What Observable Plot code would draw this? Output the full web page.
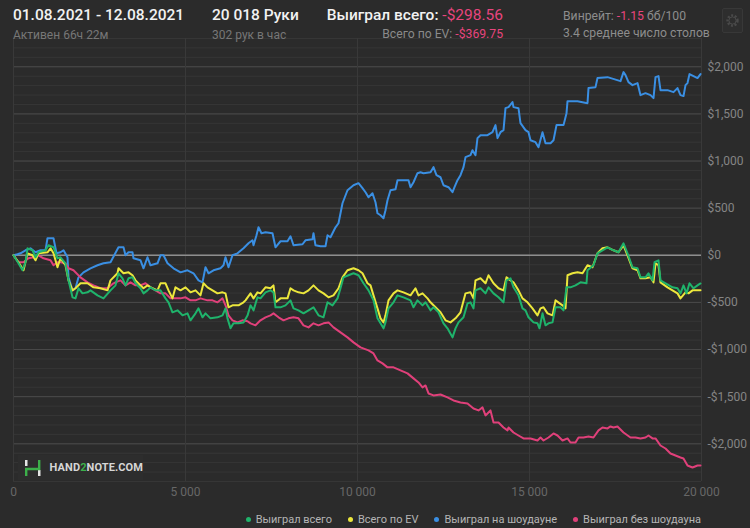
<!DOCTYPE html>
<html>
<head>
<meta charset="utf-8">
<script src="https://cdn.jsdelivr.net/npm/d3@7"></script>
<script src="https://cdn.jsdelivr.net/npm/@observablehq/plot@0.6"></script>
<style>
  html, body { margin: 0; padding: 0; background: #2b2b2b; }
  body { width: 750px; height: 528px; position: relative; overflow: hidden; font-family: Roboto, "Noto Sans", sans-serif; }
  .abs { position: absolute; white-space: nowrap; }
  .big { font-size: 15.5px; font-weight: 500; color: #f2f2f2; }
  .small { font-size: 12px; color: #777; }
  .mid { font-size: 12.2px; color: #8d8d8d; }
  .neg { color: #e8457e; }
  #chart { position: absolute; left: 0; top: 0; }
  #legend { position: absolute; right: 49px; top: 513px; display: flex; gap: 16px; font-size: 11px; color: #b5b5b5; }
  #legend span.item { display: flex; align-items: center; }
  #legend i { display: inline-block; width: 5px; height: 5px; border-radius: 50%; margin-right: 5px; }
  #wm { position: absolute; left: 18px; top: 455px; width: 125px; height: 25px; background: #2d2d2d; display: flex; align-items: center; }
  #wm .t { font-size: 11px; font-weight: 700; color: #d6d6d6; letter-spacing: 0.1px; margin-left: 8px; }
  #gear { position: absolute; left: 722px; top: 8px; width: 19px; height: 23px; border: 1px solid #383838; border-radius: 2px; background: #2e2e2e; }
</style>
</head>
<body>
<div id="chart"></div>

<div class="abs big" style="left:13px; top:6px;">01.08.2021 - 12.08.2021</div>
<div class="abs small" style="left:13px; top:28px;">Активен 66ч 22м</div>
<div class="abs big" style="left:212px; top:6px;">20 018 Руки</div>
<div class="abs small" style="left:212px; top:28px;">302 рук в час</div>
<div class="abs big" style="right:247px; top:6px;">Выиграл всего: <span class="neg" style="font-weight:400">-$298.56</span></div>
<div class="abs mid" style="right:247px; top:27px; color:#8a8a8a;">Всего по EV: <span class="neg">-$369.75</span></div>
<div class="abs mid" style="left:563px; top:9px;">Винрейт: <span class="neg">-1.15</span> бб/100</div>
<div class="abs mid" style="left:563px; top:26px;">3.4 среднее число столов</div>
<div id="gear"><svg width="19" height="23"><circle cx="9.5" cy="11.5" r="5" fill="none" stroke="#4a4a4a" stroke-width="2.4" stroke-dasharray="2 1.6"/><circle cx="9.5" cy="11.5" r="3.6" fill="none" stroke="#4a4a4a" stroke-width="1"/></svg></div>

<div id="wm">
  <svg width="22" height="20" style="margin-left:4px"><rect x="3" y="2" width="2.5" height="6" fill="#e6e6e6"/><rect x="16" y="12" width="2.5" height="6" fill="#e6e6e6"/><path d="M4.2 18 V11 H17.2 V2" fill="none" stroke="#3cb04a" stroke-width="2.4"/></svg>
  <span class="t">HAND<span style="color:#3cb04a">2</span>NOTE.COM</span>
</div>

<div id="legend">
  <span class="item"><i style="background:#1fb36b"></i>Выиграл всего</span>
  <span class="item"><i style="background:#ece73c"></i>Всего по EV</span>
  <span class="item"><i style="background:#3a8fe3"></i>Выиграл на шоудауне</span>
  <span class="item"><i style="background:#e0407a"></i>Выиграл без шоудауна</span>
</div>

<script>
// Series: [hands, $]
const showdownWon = [[0,0],[116,11],[203,21],[349,53],[494,74],[640,32],[785,53],[930,53],[988,181],[1163,181],[1250,21],[1366,32],[1454,53],[1570,-21],[1599,-234],[1715,-372],[1802,-350],[1890,-234],[2035,-181],[2238,-138],[2442,-106],[2616,-85],[2820,-74],[3052,85],[3198,85],[3256,0],[3343,32],[3459,32],[3488,-32],[3692,-53],[3779,-138],[3895,-21],[3983,-106],[4186,-85],[4273,0],[4361,0],[4477,-85],[4651,-138],[4855,-181],[5058,-159],[5233,-191],[5378,-266],[5494,-287],[5581,-127],[5669,-191],[5814,-159],[6017,-138],[6105,-106],[6163,-21],[6250,-127],[6366,0],[6512,21],[6686,74],[6831,127],[6948,159],[6977,106],[7064,212],[7122,297],[7209,234],[7326,244],[7529,234],[7616,85],[7762,149],[7965,149],[8052,202],[8140,106],[8401,117],[8488,159],[8692,170],[8721,234],[8779,106],[8924,96],[9070,96],[9128,212],[9215,191],[9361,297],[9448,340],[9564,552],[9709,690],[9884,743],[10029,765],[10145,712],[10233,669],[10320,616],[10436,658],[10523,563],[10581,446],[10669,425],[10756,393],[10814,478],[10872,584],[10959,690],[11105,701],[11163,797],[11483,797],[11541,722],[11628,775],[11744,871],[11831,881],[11919,871],[12122,881],[12209,935],[12296,850],[12413,828],[12500,743],[12645,722],[12762,669],[12820,722],[12907,797],[12994,850],[13082,935],[13140,1041],[13285,1062],[13343,1115],[13430,1062],[13488,1243],[13576,1274],[13779,1274],[13924,1306],[14011,1381],[14070,1243],[14157,1306],[14244,1328],[14302,1561],[14390,1572],[14506,1625],[14535,1572],[14680,1561],[14738,1402],[14884,1328],[14971,1306],[15029,1221],[15175,1200],[15262,1147],[15378,1306],[15465,1189],[15611,1189],[15698,1221],[15785,1381],[15989,1381],[16076,1508],[16105,1635],[16395,1635],[16686,1614],[16715,1774],[16919,1784],[16977,1880],[17268,1890],[17646,1848],[17733,1943],[17791,1912],[17878,1837],[17994,1805],[18140,1827],[18227,1699],[18372,1720],[18518,1699],[18605,1667],[18663,1890],[18750,1901],[18808,1752],[19012,1752],[19186,1731],[19302,1774],[19389,1699],[19477,1689],[19535,1805],[19593,1827],[19651,1922],[19768,1901],[19884,1880],[19971,1922]];

const totalWon = [[0,0],[145,-85],[262,-159],[349,-74],[407,74],[552,53],[640,-21],[727,32],[930,53],[1017,106],[1163,85],[1279,-32],[1366,-21],[1512,-85],[1599,-266],[1715,-446],[1802,-457],[1890,-350],[2006,-404],[2151,-393],[2238,-372],[2442,-425],[2616,-457],[2820,-372],[2965,-319],[3052,-191],[3169,-244],[3256,-319],[3343,-244],[3459,-234],[3547,-297],[3692,-350],[3779,-404],[3895,-372],[3983,-340],[4128,-372],[4273,-372],[4419,-457],[4506,-499],[4622,-605],[4767,-584],[4913,-637],[5058,-616],[5145,-690],[5291,-616],[5378,-563],[5494,-658],[5581,-616],[5727,-669],[5930,-658],[6076,-637],[6163,-563],[6221,-669],[6308,-775],[6395,-722],[6541,-722],[6686,-712],[6802,-640],[6890,-531],[6977,-584],[7093,-446],[7180,-457],[7326,-393],[7471,-372],[7558,-393],[7616,-552],[7762,-552],[7907,-531],[8052,-478],[8140,-563],[8285,-584],[8430,-616],[8576,-584],[8721,-552],[8866,-637],[9012,-658],[9128,-499],[9273,-531],[9419,-457],[9506,-350],[9593,-234],[9738,-212],[9884,-191],[10029,-212],[10175,-297],[10320,-372],[10465,-478],[10581,-669],[10669,-722],[10756,-775],[10814,-712],[10901,-563],[11047,-499],[11163,-425],[11337,-446],[11541,-478],[11628,-552],[11744,-478],[11890,-531],[11977,-499],[12122,-584],[12209,-552],[12355,-605],[12500,-722],[12616,-775],[12762,-871],[12849,-775],[12936,-712],[13082,-658],[13198,-510],[13285,-499],[13372,-563],[13430,-372],[13576,-350],[13721,-404],[13808,-340],[13954,-404],[14099,-446],[14244,-499],[14332,-266],[14448,-244],[14535,-340],[14680,-425],[14797,-563],[14884,-584],[14971,-658],[15116,-712],[15233,-722],[15291,-775],[15378,-616],[15465,-743],[15553,-722],[15669,-712],[15756,-552],[15901,-552],[15989,-584],[16076,-340],[16192,-340],[16337,-319],[16483,-287],[16657,-297],[16686,-159],[16860,-106],[16977,21],[17122,53],[17268,85],[17442,53],[17587,32],[17733,127],[17849,21],[17994,-127],[18140,-138],[18227,-234],[18372,-234],[18459,-191],[18576,-266],[18634,-74],[18750,-53],[18808,-266],[18954,-297],[19157,-340],[19302,-350],[19389,-404],[19477,-319],[19564,-404],[19651,-297],[19768,-350],[19884,-319],[19971,-299]];

const evWon = [[0,0],[145,-74],[291,-159],[407,21],[552,0],[640,-53],[727,21],[988,32],[1076,74],[1163,21],[1279,-127],[1366,-32],[1512,-106],[1599,-266],[1715,-372],[1802,-350],[1948,-297],[2151,-297],[2326,-340],[2529,-350],[2733,-372],[2820,-266],[3023,-191],[3052,-138],[3198,-191],[3343,-181],[3459,-212],[3547,-266],[3692,-319],[3779,-350],[3895,-319],[4041,-350],[4186,-372],[4273,-297],[4419,-297],[4506,-372],[4622,-457],[4709,-340],[4855,-372],[5000,-340],[5145,-393],[5291,-372],[5436,-425],[5523,-297],[5640,-340],[5785,-372],[5930,-404],[6076,-393],[6163,-404],[6250,-552],[6366,-531],[6541,-531],[6686,-499],[6744,-478],[6890,-404],[6977,-457],[7093,-393],[7180,-404],[7326,-340],[7471,-350],[7558,-319],[7616,-499],[7762,-457],[7965,-457],[8052,-350],[8140,-372],[8285,-393],[8430,-404],[8576,-372],[8721,-319],[8866,-372],[9012,-404],[9157,-446],[9302,-425],[9448,-350],[9564,-234],[9709,-159],[9884,-138],[10029,-159],[10145,-191],[10291,-297],[10378,-319],[10465,-425],[10581,-563],[10669,-669],[10756,-712],[10814,-637],[10901,-478],[11047,-404],[11163,-372],[11337,-393],[11541,-425],[11686,-350],[11773,-425],[11890,-404],[12035,-457],[12122,-499],[12268,-552],[12413,-605],[12558,-690],[12704,-712],[12849,-669],[12994,-605],[13140,-404],[13285,-393],[13372,-457],[13430,-266],[13576,-244],[13721,-297],[13808,-212],[13954,-297],[14099,-350],[14244,-372],[14332,-234],[14448,-266],[14535,-287],[14680,-372],[14797,-457],[14942,-499],[15087,-563],[15233,-637],[15320,-563],[15407,-552],[15524,-616],[15669,-637],[15756,-478],[15960,-531],[16047,-563],[16105,-212],[16250,-191],[16395,-181],[16541,-191],[16686,-106],[16831,-127],[16977,21],[17122,74],[17268,85],[17442,53],[17587,32],[17733,106],[17849,0],[17994,-138],[18140,-159],[18227,-244],[18372,-244],[18518,-234],[18605,-287],[18663,-85],[18750,-106],[18808,-287],[19012,-340],[19157,-372],[19302,-404],[19389,-457],[19535,-393],[19622,-404],[19739,-372],[19884,-372],[19971,-370]];

const nonShowdownWon = [[0,0],[145,-74],[291,-74],[436,-32],[581,-21],[727,0],[872,-32],[1076,-53],[1163,-106],[1279,-74],[1366,-74],[1512,-85],[1599,-138],[1744,-159],[1948,-234],[2151,-287],[2326,-319],[2529,-350],[2733,-350],[2907,-297],[2965,-287],[3110,-266],[3256,-319],[3401,-287],[3547,-319],[3692,-319],[3837,-297],[3983,-340],[4128,-372],[4273,-404],[4419,-404],[4564,-457],[4709,-457],[4855,-457],[5000,-446],[5145,-478],[5291,-478],[5436,-457],[5640,-478],[5785,-478],[5930,-499],[6076,-457],[6163,-531],[6250,-637],[6366,-690],[6512,-712],[6657,-690],[6802,-700],[6890,-722],[7035,-743],[7180,-690],[7326,-658],[7471,-637],[7558,-616],[7704,-658],[7849,-690],[7994,-669],[8140,-658],[8285,-669],[8430,-743],[8576,-765],[8721,-722],[8866,-743],[9012,-722],[9157,-712],[9302,-765],[9506,-818],[9709,-871],[9884,-924],[10087,-977],[10320,-1009],[10465,-1041],[10581,-1115],[10727,-1147],[10872,-1189],[11047,-1189],[11250,-1221],[11454,-1253],[11628,-1306],[11773,-1349],[11890,-1402],[11977,-1381],[12064,-1466],[12209,-1487],[12413,-1477],[12616,-1508],[12791,-1540],[12994,-1561],[13198,-1572],[13372,-1625],[13518,-1646],[13634,-1614],[13721,-1699],[13866,-1646],[13954,-1774],[14099,-1774],[14244,-1827],[14361,-1858],[14390,-1827],[14535,-1880],[14680,-1912],[14826,-1943],[15029,-1943],[15233,-1965],[15320,-1933],[15407,-1965],[15553,-1933],[15698,-1890],[15814,-1912],[15960,-1965],[16105,-1943],[16192,-1986],[16337,-1986],[16425,-1933],[16570,-1933],[16715,-1922],[16860,-1933],[17006,-1858],[17122,-1827],[17268,-1837],[17355,-1816],[17442,-1827],[17558,-1816],[17733,-1880],[17936,-1933],[18081,-1933],[18227,-1943],[18372,-1933],[18459,-1912],[18576,-1943],[18663,-1943],[18808,-2018],[18954,-2050],[19099,-2103],[19244,-2124],[19389,-2145],[19477,-2156],[19593,-2230],[19739,-2251],[19884,-2230],[19971,-2230]];

const xTicks = [0, 5000, 10000, 15000, 20000];
const yMajor = [-2000, -1500, -1000, -500, 0, 500, 1000, 1500, 2000];
const yMinor = d3.range(-2400, 2301, 100);

const fmtHands = d => d3.format(",")(d).replace(/,/g, " ");
const fmtMoney = d => (d < 0 ? "-" : "") + "$" + d3.format(",")(Math.abs(d));

const chart = Plot.plot({
  width: 750,
  height: 528,
  marginTop: 38,
  marginBottom: 47,
  marginLeft: 13,
  marginRight: 49,
  style: { background: "transparent", fontFamily: "Roboto, sans-serif", fontSize: "12px" },
  x: { domain: [0, 20000] },
  y: { domain: [-2400, 2300] },
  marks: [
    Plot.ruleY(yMinor, { stroke: "#363636", strokeWidth: 1 }),
    Plot.ruleY(yMajor, { stroke: "#4a4a4a", strokeWidth: 1 }),
    Plot.ruleX(xTicks, { stroke: "#393939", strokeWidth: 1 }),
    Plot.ruleY([0], { stroke: "#8e8e8e", strokeWidth: 1.5 }),
    Plot.line(showdownWon, { stroke: "#3a8fe3", strokeWidth: 2 }),
    Plot.line(nonShowdownWon, { stroke: "#e0407a", strokeWidth: 2 }),
    Plot.line(evWon, { stroke: "#ece73c", strokeWidth: 2 }),
    Plot.line(totalWon, { stroke: "#1fb36b", strokeWidth: 2 }),
    Plot.axisY({ anchor: "right", ticks: yMajor, tickSize: 0, tickPadding: 6, tickFormat: fmtMoney, fill: "#858585", label: null }),
    Plot.axisX({ ticks: xTicks, tickSize: 0, tickPadding: 6, tickFormat: fmtHands, fill: "#676767", label: null })
  ]
});
document.getElementById("chart").appendChild(chart);
</script>
</body>
</html>
